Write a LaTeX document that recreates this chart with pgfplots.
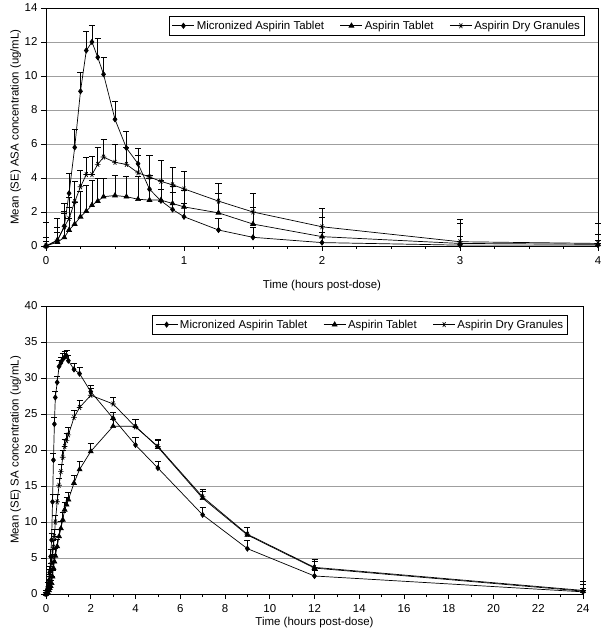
\documentclass[border=0pt]{standalone}
\usepackage{fontspec}
\setmainfont{Liberation Sans}
\usepackage{pgfplots}
\usepackage{pgfplotstable}
\pgfplotsset{compat=1.18}

\pgfplotstableread{
t v e
0 0 0.5
0.083 0.31 0.8
0.133 1.17 0.9
0.167 3.1 1.2
0.208 5.8 1.05
0.25 9.1 1.1
0.292 11.5 1.1
0.333 12.0 1.0
0.375 11.1 1.1
0.417 10.1 1.0
0.5 7.45 1.05
0.583 5.76 1.0
0.667 4.84 0.9
0.75 3.34 0.8
0.833 2.66 0.7
0.917 2.15 1.0
1 1.72 0.8
1.25 0.94 0.7
1.5 0.51 0.6
2 0.2 0.6
3 0.05 0.5
4 0.05 0.3
}\micASA

\pgfplotstableread{
t v e
0 0 0.3
0.083 0.23 0.6
0.133 0.5 1.45
0.167 0.94 1.33
0.208 1.29 1.3
0.25 1.72 1.5
0.292 2.05 1.5
0.333 2.4 1.47
0.375 2.64 1.33
0.417 2.9 1.1
0.5 2.97 1.2
0.583 2.9 1.2
0.667 2.75 1.35
0.75 2.7 1.27
0.833 2.7 1.17
0.917 2.5 1.0
1 2.3 1.0
1.25 1.95 1.14
1.5 1.29 1.0
2 0.55 1.15
3 0.15 1.2
4 0.1 0.6
}\tabASA

\pgfplotstableread{
t v e
0 0 1.4
0.083 0.35 1.25
0.133 1.13 1.37
0.167 1.62 1.23
0.208 2.6 1.23
0.25 3.48 1.0
0.292 4.2 1.0
0.333 4.2 1.08
0.375 4.8 1.0
0.417 5.23 1.02
0.5 4.92 1.06
0.583 4.8 1.0
0.667 4.3 1.05
0.75 4.06 1.3
0.833 3.8 1.27
0.917 3.6 1.05
1 3.36 1.06
1.25 2.64 1.07
1.5 2.0 1.09
2 1.13 1.1
3 0.25 1.3
4 0.15 1.2
}\graASA

\pgfplotstableread{
t v e
0 0 0.3
0.083 1.0 0.6
0.133 1.9 0.8
0.167 3.0 0.9
0.208 5.2 1.0
0.25 7.5 1.0
0.292 12.8 1.0
0.333 18.6 1.0
0.375 23.6 1.0
0.417 27.3 0.9
0.5 29.4 0.9
0.583 31.6 0.8
0.667 32.1 0.8
0.75 32.6 0.8
0.833 32.9 0.8
0.917 33.1 0.8
1 32.4 0.8
1.25 31.2 0.9
1.5 30.6 0.9
2 28.1 0.9
3 24.4 0.9
4 20.7 1.0
5 17.5 1.0
7 11.0 1.1
9 6.3 1.1
12 2.5 0.8
24 0.3 0.5
}\micSA

\pgfplotstableread{
t v e
0 0 0.3
0.083 0.2 0.5
0.133 0.5 0.6
0.167 0.8 0.7
0.208 1.1 0.8
0.25 1.5 0.9
0.292 2.4 0.9
0.333 3.6 1.0
0.375 4.5 1.0
0.417 5.3 1.0
0.5 6.6 1.0
0.583 8.0 1.0
0.667 9.1 1.0
0.75 10.3 1.0
0.833 11.7 1.0
0.917 12.4 1.0
1 13.1 1.0
1.25 15.4 1.1
1.5 17.3 1.1
2 19.8 1.2
3 23.3 1.0
4 23.3 1.0
5 20.4 1.0
7 13.3 1.0
9 8.2 1.0
12 3.6 1.0
24 0.4 1.0
}\tabSA

\pgfplotstableread{
t v e
0 0 0.5
0.083 0.8 0.8
0.133 1.5 0.9
0.167 2.4 1.0
0.208 3.3 1.0
0.25 4.3 1.0
0.292 5.2 1.0
0.333 6.5 1.0
0.375 8.0 1.0
0.417 10.0 1.0
0.5 12.8 1.0
0.583 15.1 1.0
0.667 17.0 1.0
0.75 19.0 1.0
0.833 20.5 1.0
0.917 21.3 1.0
1 22.1 1.0
1.25 24.5 1.0
1.5 25.9 1.0
2 27.6 1.0
3 26.4 0.9
4 23.2 1.0
5 20.5 1.0
7 13.5 1.0
9 8.3 1.0
12 3.7 1.1
24 0.5 1.3
}\graSA

\pgfplotsset{
  pkstyle/.style={
    scale only axis,
    clip=false,
    font=\fontsize{11.5}{13.5}\selectfont,
    /pgf/number format/assume math mode=true,
    axis line style={black, line width=0.6bp},
    ymajorgrids,
    major grid style={gray!75, line width=0.8bp},
    tick align=outside,
    major tick length=5bp,
    minor tick length=3bp,
    tick style={black, line width=0.6bp},
    xtick pos=lower, ytick pos=left,
    xticklabel style={yshift=-2bp},
    ylabel style={yshift=-3bp},
    legend columns=3,
    legend cell align=left,
    legend style={draw=black, line width=0.6bp, fill=white,
      font=\fontsize{11.5}{13.5}\selectfont, inner sep=2.5bp,
      /tikz/every even column/.append style={column sep=14bp}},
    legend image code/.code={%
      \draw[mark repeat=2,mark phase=2,#1] plot coordinates {(0bp,0bp) (11bp,0bp) (22bp,0bp)};},
    label style={font=\fontsize{11.5}{13.5}\selectfont},
  },
  errb/.style={error bars/.cd, y dir=plus, y explicit,
    error bar style={black, line width=0.6bp},
    error mark options={rotate=90, mark size=3bp, black, line width=0.6bp, solid}},
  ser/.style={black, line width=0.7bp, solid},
}

\begin{document}
\begin{tikzpicture}
\useasboundingbox (0,0) rectangle (602bp,634bp);

\begin{axis}[pkstyle,
  at={(46bp,388bp)}, anchor=south west,
  width=552bp, height=238bp,
  xmin=0, xmax=4, ymin=0, ymax=14,
  xtick={0,1,2,3,4}, minor x tick num=3,
  ytick={0,2,...,14},
  xlabel={Time (hours post-dose)},
  xlabel style={yshift=-9bp},
  ylabel={Mean (SE) ASA concentration (ug/mL)},
  legend style={at={(0.976,0.966)}, anchor=north east},
]
\addplot[ser, mark=diamond*, mark size=2.6bp, errb] table[x=t, y=v, y error=e] {\micASA};
\addlegendentry{Micronized Aspirin Tablet}
\addplot[ser, mark=triangle*, mark size=2.8bp, errb] table[x=t, y=v, y error=e] {\tabASA};
\addlegendentry{Aspirin Tablet}
\addplot[ser, mark=asterisk, mark size=2.8bp, mark options={rotate=90}, errb] table[x=t, y=v, y error=e] {\graASA};
\addlegendentry{Aspirin Dry Granules}
\end{axis}

\begin{axis}[pkstyle,
  at={(46bp,40bp)}, anchor=south west,
  width=537bp, height=288bp,
  xmin=0, xmax=24, ymin=0, ymax=40,
  xtick={0,2,...,24}, minor x tick num=1,
  ytick={0,5,...,40},
  xlabel={Time (hours post-dose)},
  xlabel style={yshift=2bp},
  ylabel={Mean (SE) SA concentration (ug/mL)},
  legend style={at={(0.972,0.969)}, anchor=north east},
]
\addplot[ser, mark=diamond*, mark size=2.6bp, errb] table[x=t, y=v, y error=e] {\micSA};
\addlegendentry{Micronized Aspirin Tablet}
\addplot[ser, mark=triangle*, mark size=2.8bp, errb] table[x=t, y=v, y error=e] {\tabSA};
\addlegendentry{Aspirin Tablet}
\addplot[ser, mark=asterisk, mark size=2.8bp, mark options={rotate=90}, errb] table[x=t, y=v, y error=e] {\graSA};
\addlegendentry{Aspirin Dry Granules}
\end{axis}
\end{tikzpicture}
\end{document}
